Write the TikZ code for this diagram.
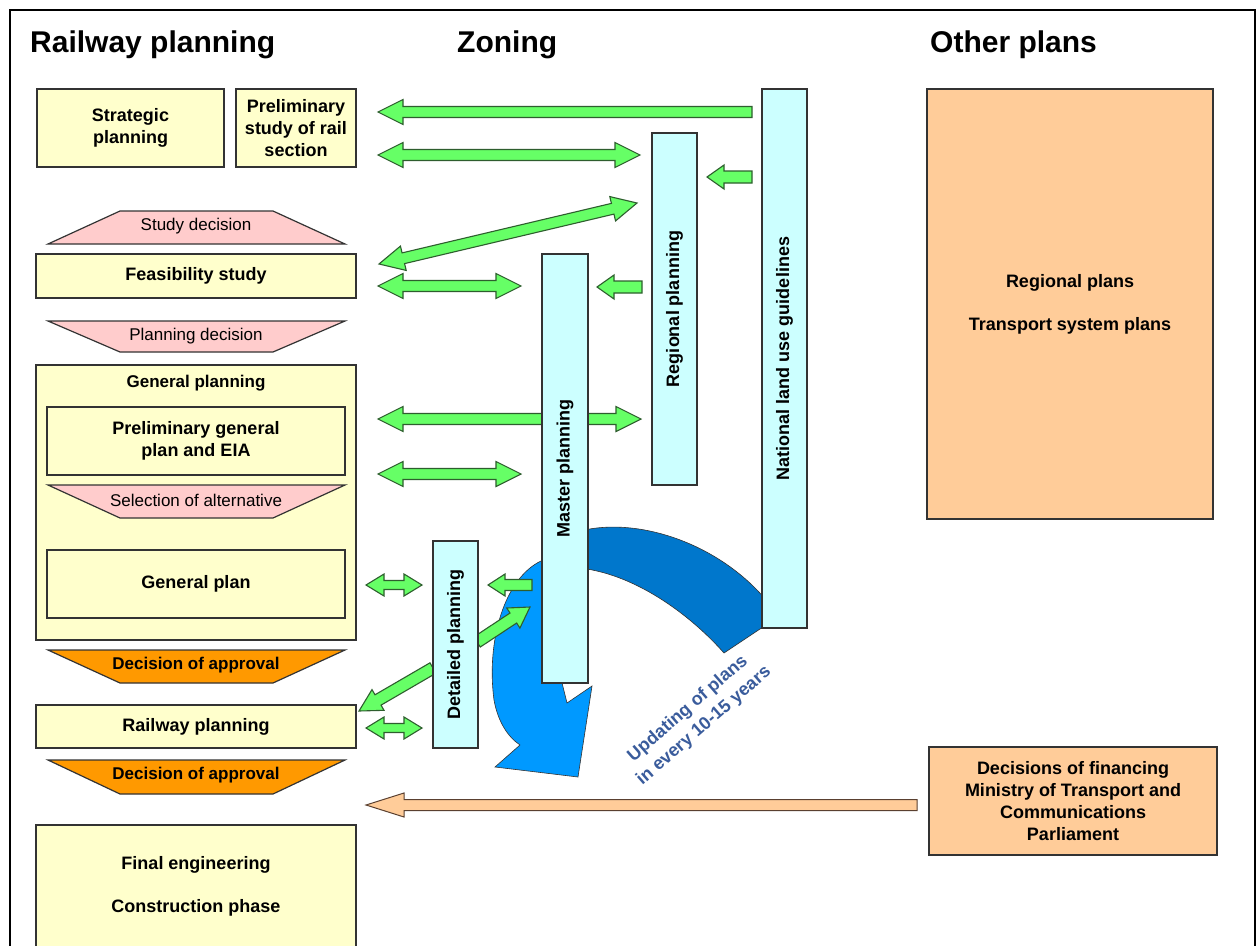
\documentclass[tikz,border=0pt]{standalone}
\usepackage{fontspec}
\setmainfont{Liberation Sans}
\usetikzlibrary{calc}
\definecolor{ylw}{HTML}{FFFFCC}
\definecolor{pnk}{HTML}{FFCCCC}
\definecolor{org}{HTML}{FF9900}
\definecolor{cyn}{HTML}{CCFFFF}
\definecolor{pch}{HTML}{FFCC99}
\definecolor{grn}{HTML}{66FF66}
\definecolor{grnline}{HTML}{2E5E2E}
\definecolor{dblue}{HTML}{0077CC}
\definecolor{lblue}{HTML}{0099FF}
\definecolor{txtblue}{HTML}{3A5C9C}
\definecolor{edgec}{HTML}{333333}
\definecolor{pchline}{HTML}{5A4030}

% single block arrow: style, from, to, shaft half width, head half width, head length
\newcommand\blkarrow[6]{%
 \path (#2) coordinate (sa-a) (#3) coordinate (sa-b);
 \path ($(sa-b)!#6!(sa-a)$) coordinate (sa-c);
 \filldraw[#1] ($(sa-a)!#4!90:(sa-b)$) -- ($(sa-c)!#4!90:(sa-b)$) -- ($(sa-c)!#5!90:(sa-b)$) -- (sa-b) -- ($(sa-c)!#5!-90:(sa-b)$) -- ($(sa-c)!#4!-90:(sa-b)$) -- ($(sa-a)!#4!-90:(sa-b)$) -- cycle;}
% double block arrow
\newcommand\dblarrow[6]{%
 \path (#2) coordinate (da-a) (#3) coordinate (da-b);
 \path ($(da-a)!#6!(da-b)$) coordinate (da-c) ($(da-b)!#6!(da-a)$) coordinate (da-d);
 \filldraw[#1] (da-a) -- ($(da-c)!#5!90:(da-b)$) -- ($(da-c)!#4!90:(da-b)$) -- ($(da-d)!#4!90:(da-b)$) -- ($(da-d)!#5!90:(da-b)$) -- (da-b) -- ($(da-d)!#5!-90:(da-b)$) -- ($(da-d)!#4!-90:(da-b)$) -- ($(da-c)!#4!-90:(da-b)$) -- ($(da-c)!#5!-90:(da-b)$) -- cycle;}

\begin{document}
\begin{tikzpicture}[x=1pt,y=-1pt,
  ybox/.style={draw=edgec, fill=ylw, line width=1.5pt, align=center, inner sep=0pt,
     font=\bfseries\fontsize{18}{22}\selectfont},
  cbox/.style={draw=edgec, fill=cyn, line width=1.5pt, inner sep=0pt, rotate=90,
     font=\bfseries\fontsize{18}{22}\selectfont},
  obox/.style={draw=edgec, fill=pch, line width=1.5pt, align=center, inner sep=0pt,
     font=\bfseries\fontsize{18}{22}\selectfont},
  trap/.style={draw=edgec, line width=1.2pt},
  traptxt/.style={font=\fontsize{17}{20}\selectfont, inner sep=0pt},
  apptxt/.style={font=\bfseries\fontsize{17}{20}\selectfont, inner sep=0pt},
  title/.style={font=\bfseries\fontsize{30}{34}\selectfont, anchor=base west, inner sep=0pt},
  garrow/.style={fill=grn, draw=grnline, line width=1.1pt, line join=miter},
  parrow/.style={fill=pch, draw=pchline, line width=1pt, line join=miter},
  updtxt/.style={rotate=41, text=txtblue, font=\bfseries\fontsize{18}{22}\selectfont, inner sep=0pt}
]
\useasboundingbox (0,0) rectangle (1258,945);
\clip (0,0) rectangle (1258,945);
\fill[white] (0,0) rectangle (1258,945);
\draw[line width=1.5pt] (10,10) rectangle (1255,1000);

% titles
\node[title] (t1) at (30,52) {Railway planning};
\node[title] (t2) at (457,52) {Zoning};
\node[title] (t3) at (930,52) {Other plans};

% blue updating arrows
\filldraw[fill=dblue, draw=edgec, line width=0.6pt]
  (580,531) .. controls (640,516) and (720,545) .. (766,600) -- (766,625) -- (724,653)
  .. controls (695,620) and (640,575) .. (580,568) -- cycle;
\filldraw[fill=lblue, draw=edgec, line width=0.6pt]
  (548,558) -- (541,561) .. controls (505,578) and (486,640) .. (494,700)
  .. controls (498,722) and (508,737) .. (520,745) -- (495,767) -- (578,777)
  -- (592,686) -- (567,703) -- (562,683) -- (560,600) -- cycle;

% arrow end points
\coordinate (g1s) at (752,112); \coordinate (g1e) at (378,112);
\coordinate (g2s) at (378,155); \coordinate (g2e) at (640,155);
\coordinate (g3s) at (752,177); \coordinate (g3e) at (707,177);
\coordinate (g4s) at (379,264); \coordinate (g4e) at (637,203);
\coordinate (g5s) at (378,286); \coordinate (g5e) at (521,286);
\coordinate (g6s) at (642,287); \coordinate (g6e) at (597,287);
\coordinate (g7s) at (378,419); \coordinate (g7e) at (641,419);
\coordinate (g8s) at (378,474); \coordinate (g8e) at (521,474);
\coordinate (g9s) at (366,585); \coordinate (g9e) at (422,585);
\coordinate (g10s) at (532,585); \coordinate (g10e) at (488,585);
\coordinate (g11s) at (477,642); \coordinate (g11e) at (530,607);
\coordinate (g12s) at (433,668); \coordinate (g12e) at (359,711);
\coordinate (g13s) at (366,728); \coordinate (g13e) at (422,728);
\coordinate (p1s) at (917,805); \coordinate (p1e) at (366,805);

\blkarrow{garrow}{g1s}{g1e}{5.5pt}{12.5pt}{25pt}
\dblarrow{garrow}{g2s}{g2e}{5.5pt}{12.5pt}{25pt}
\blkarrow{garrow}{g3s}{g3e}{6pt}{12pt}{17pt}
\dblarrow{garrow}{g4s}{g4e}{5.5pt}{12.5pt}{25pt}
\dblarrow{garrow}{g5s}{g5e}{5.5pt}{12.5pt}{25pt}
\blkarrow{garrow}{g6s}{g6e}{6pt}{12pt}{17pt}
\dblarrow{garrow}{g7s}{g7e}{5.5pt}{12.5pt}{25pt}
\dblarrow{garrow}{g8s}{g8e}{5.5pt}{12.5pt}{25pt}
\dblarrow{garrow}{g9s}{g9e}{4.5pt}{11pt}{18pt}
\blkarrow{garrow}{g10s}{g10e}{5.5pt}{11pt}{17pt}
\blkarrow{garrow}{g11s}{g11e}{6pt}{12pt}{20pt}
\blkarrow{garrow}{g12s}{g12e}{6pt}{12pt}{22pt}
\dblarrow{garrow}{g13s}{g13e}{4.5pt}{11pt}{18pt}
\blkarrow{parrow}{p1s}{p1e}{5.5pt}{12pt}{38pt}

% left column boxes
\node[ybox, minimum width=187, minimum height=78] (strat) at (130.5,128) {Strategic\\planning};
\node[ybox, minimum width=120, minimum height=78] (prelim) at (296,128) {Preliminary\\study of rail\\section};
\node[ybox, minimum width=320, minimum height=44] (feas) at (196,276) {Feasibility study};
\node[ybox, minimum width=320, minimum height=275] (gen) at (196,502.5) {};
\node[font=\bfseries\fontsize{17}{20}\selectfont, inner sep=0pt] (gentitle) at (196,383) {General planning};
\node[ybox, minimum width=298, minimum height=68] (pgp) at (196,441) {Preliminary general\\plan and EIA};
\node[ybox, minimum width=298, minimum height=68] (gplan) at (196,584) {General plan};
\node[ybox, minimum width=320, minimum height=43] (rail) at (196,726.5) {Railway planning};
\node[ybox, minimum width=320, minimum height=123] (final) at (196,886.5) {Final engineering\\[21pt]Construction phase};

% trapezoids
\filldraw[trap, fill=pnk] (48,244) -- (120,211) -- (273,211) -- (345,244) -- cycle;
\node[traptxt] (studydec) at (196,226) {Study decision};
\filldraw[trap, fill=pnk] (48,321) -- (345,321) -- (273,352) -- (120,352) -- cycle;
\node[traptxt] (plandec) at (196,336) {Planning decision};
\filldraw[trap, fill=pnk] (48,485) -- (345,485) -- (273,518) -- (120,518) -- cycle;
\node[traptxt] (seldec) at (196,500) {Selection of alternative};
\filldraw[trap, fill=org] (48,650) -- (345,650) -- (273,683) -- (120,683) -- cycle;
\node[apptxt] (appr1) at (196,665) {Decision of approval};
\filldraw[trap, fill=org] (48,760) -- (345,760) -- (273,794) -- (120,794) -- cycle;
\node[apptxt] (appr2) at (196,775) {Decision of approval};

% zoning boxes
\node[cbox, minimum width=539, minimum height=45] (nat) at (784.5,358.5) {National land use guidelines};
\node[cbox, minimum width=352, minimum height=45] (reg) at (674.5,309) {Regional planning};
\node[cbox, minimum width=429, minimum height=46] (mast) at (565,468.5) {Master planning};
\node[cbox, minimum width=207, minimum height=45] (det) at (455.5,644.5) {Detailed planning};

% other plans
\node[obox, minimum width=286, minimum height=430] (regplans) at (1070,304) {Regional plans\\[21pt]Transport system plans};
\node[obox, minimum width=288, minimum height=108] (finance) at (1073,801) {Decisions of financing\\Ministry of Transport and\\Communications\\Parliament};

% updating label (two lines)
\node[updtxt] (upd1) at (688,709) {Updating of plans};
\node[updtxt] (upd2) at (704,726) {in every 10-15 years};
\end{tikzpicture}
\end{document}
